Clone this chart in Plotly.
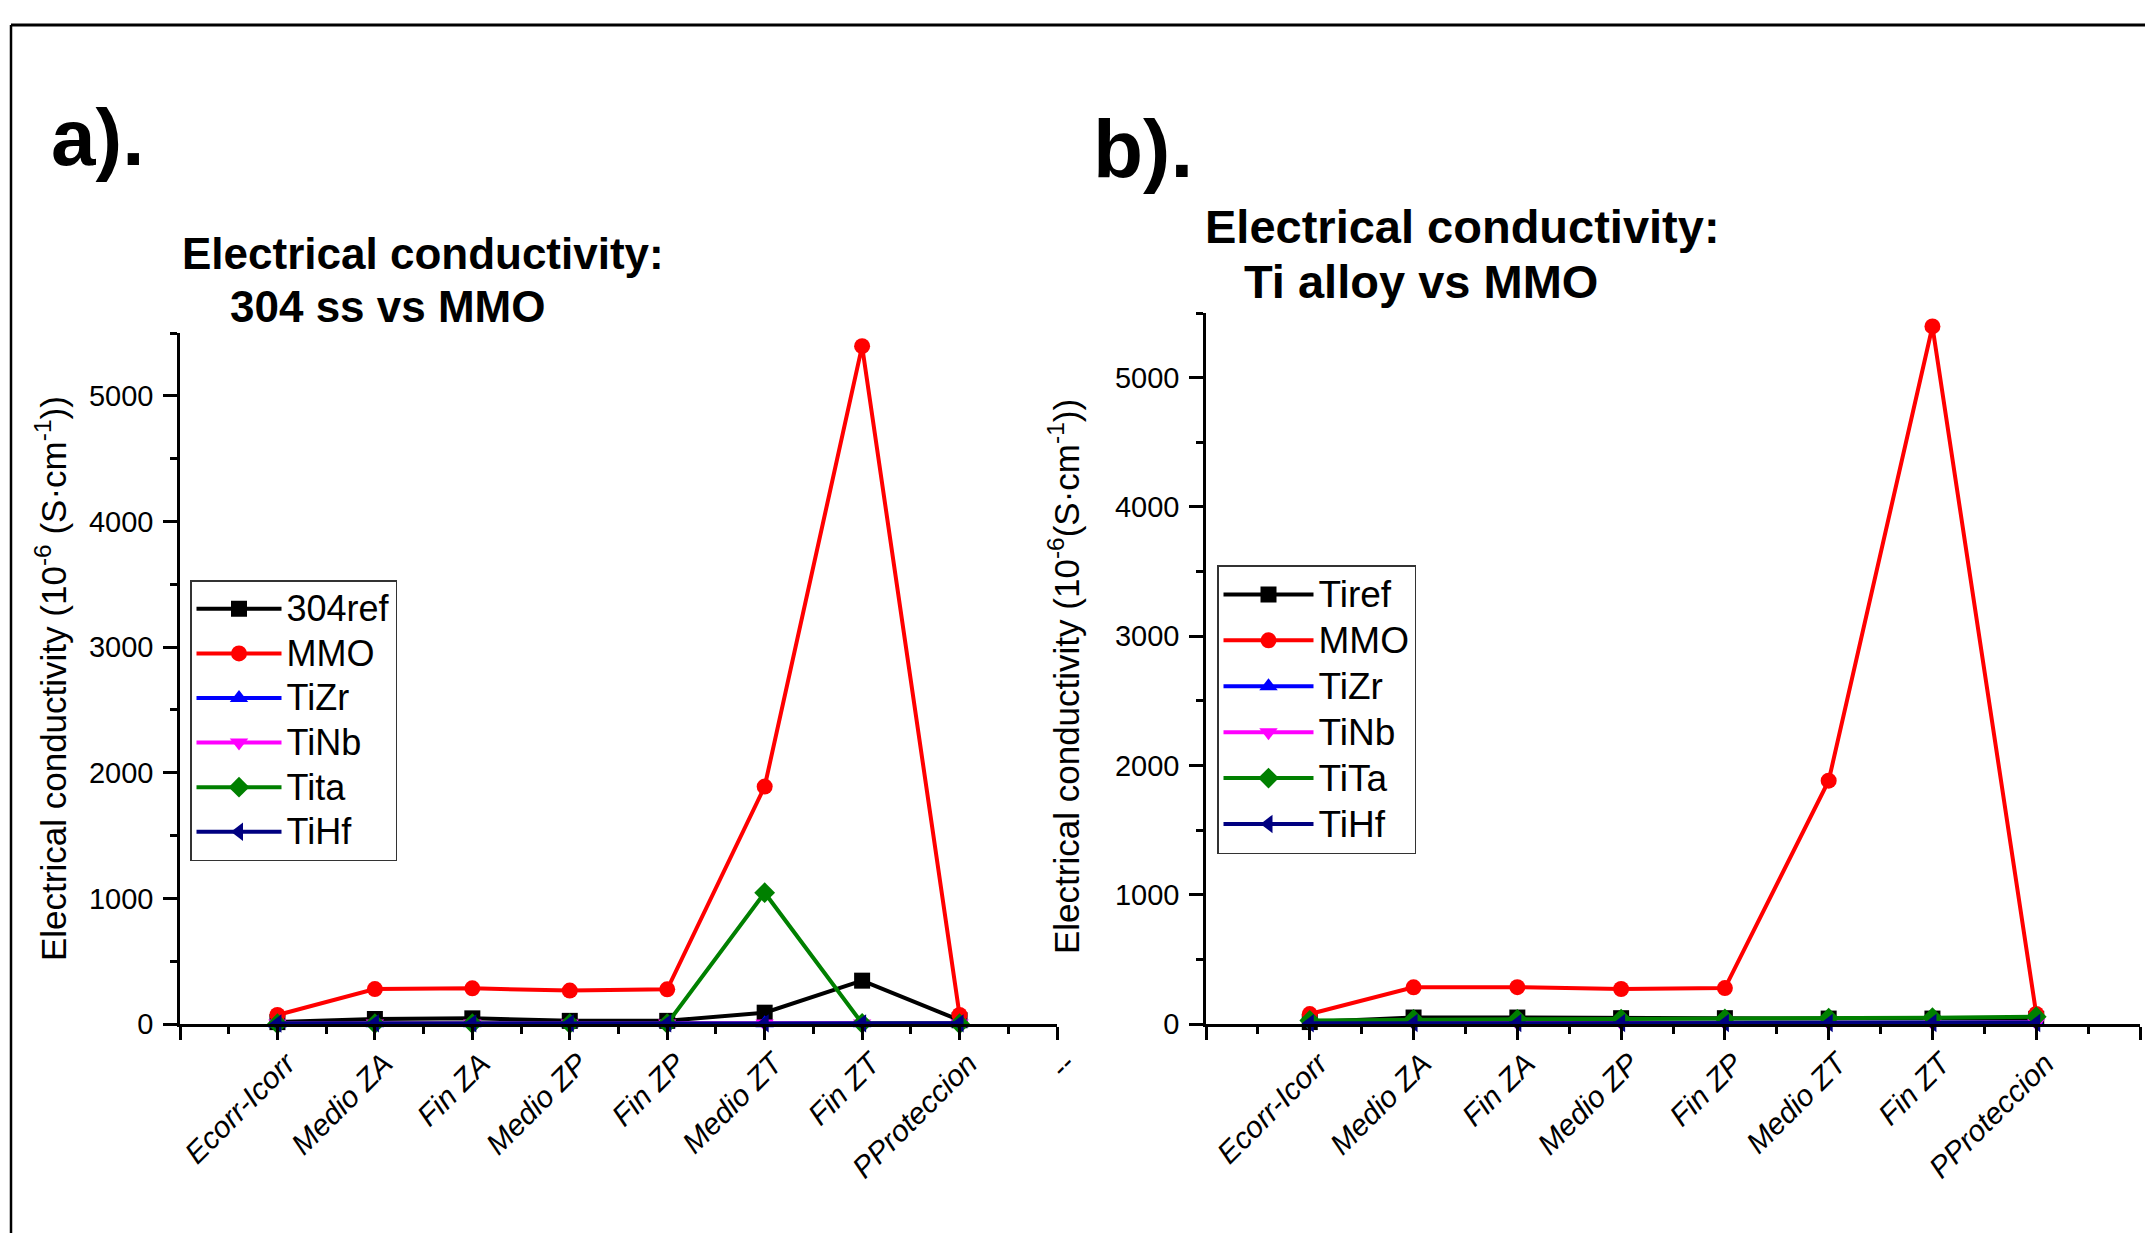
import plotly.graph_objects as go

# ---------------- data ----------------
categories = ["Ecorr-Icorr", "Medio ZA", "Fin ZA", "Medio ZP", "Fin ZP",
              "Medio ZT", "Fin ZT", "PProteccion"]
tick_text = [""] + categories + ["--"]

# panel a) 304 ss vs MMO
names_a = ["304ref", "MMO", "TiZr", "TiNb", "Tita", "TiHf"]
ref304 = [15, 40, 45, 25, 25, 90, 345, 30]
mmo_a = [72, 278, 284, 266, 276, 1890, 5395, 72]
tizr_a = [4, 5, 5, 5, 5, 5, 5, 5]
tinb_a = [3, 4, 4, 4, 4, 4, 4, 4]
tita_a = [2, 3, 3, 3, 3, 1045, 5, 2]
tihf_a = [4, 5, 5, 5, 5, 5, 5, 5]

# panel b) Ti alloy vs MMO
names_b = ["Tiref", "MMO", "TiZr", "TiNb", "TiTa", "TiHf"]
tiref = [15, 50, 50, 45, 45, 42, 42, 40]
mmo_b = [77, 284, 285, 271, 278, 1882, 5396, 78]
tizr_b = [8, 10, 10, 10, 10, 10, 10, 12]
tinb_b = [6, 8, 8, 8, 8, 8, 8, 10]
tita_b = [28, 35, 36, 38, 40, 45, 49, 57]
tihf_b = [5, 7, 7, 7, 7, 7, 7, 8]

# ---------------- styles ----------------
colors = ["#000000", "#FF0000", "#0000FF", "#FF00FF", "#008000", "#000080"]
symbols = ["square", "circle", "triangle-up", "triangle-down", "diamond", "triangle-left"]
FONT = "Arial, Liberation Sans, sans-serif"
W, H = 2145, 1233

x_pos = list(range(1, len(categories) + 1))

fig = go.Figure()

series_a = [ref304, mmo_a, tizr_a, tinb_a, tita_a, tihf_a]
series_b = [tiref, mmo_b, tizr_b, tinb_b, tita_b, tihf_b]


def legend_label(name, size):
    return '<span style="font-size:%dpx">%s</span>' % (size, name)


for name, vals, c, s in zip(names_a, series_a, colors, symbols):
    fig.add_trace(go.Scatter(
        x=x_pos, y=vals, name=legend_label(name, 36), mode="lines+markers",
        line=dict(color=c, width=4), marker=dict(color=c, symbol=s, size=16),
        cliponaxis=False, xaxis="x", yaxis="y", legend="legend"))

for name, vals, c, s in zip(names_b, series_b, colors, symbols):
    fig.add_trace(go.Scatter(
        x=x_pos, y=vals, name=legend_label(name, 37), mode="lines+markers",
        line=dict(color=c, width=4), marker=dict(color=c, symbol=s, size=16),
        cliponaxis=False, xaxis="x2", yaxis="y2", legend="legend2"))


def xaxis_cfg(domain, anchor):
    return dict(
        domain=domain, anchor=anchor, range=[0, 9], automargin=False,
        tickmode="array", tickvals=list(range(len(tick_text))), ticktext=tick_text,
        tickangle=-45, ticks="outside", ticklen=13, tickwidth=2.5, tickcolor="black",
        tickfont=dict(family=FONT, size=30, color="black", style="italic"),
        ticklabelshift=9, ticklabelstandoff=-6,
        minor=dict(tick0=0, dtick=0.5, ticks="outside", ticklen=7, tickwidth=2.5,
                   tickcolor="black"),
        showline=True, linewidth=3, linecolor="black",
        showgrid=False, zeroline=False, fixedrange=True)


def yaxis_cfg(domain, anchor):
    return dict(
        domain=domain, anchor=anchor, range=[0, 5500], automargin=False,
        tickmode="linear", tick0=0, dtick=1000,
        ticks="outside", ticklen=14, tickwidth=2.5, tickcolor="black",
        tickfont=dict(family=FONT, size=29, color="black"), ticklabelstandoff=4,
        minor=dict(tick0=0, dtick=500, ticks="outside", ticklen=7, tickwidth=2.5,
                   tickcolor="black"),
        showline=True, linewidth=2.5, linecolor="black",
        showgrid=False, zeroline=False, fixedrange=True)


def px_x(v):
    return min(1.0, v / W)


def px_y(v):
    return max(0.0, 1 - v / H)


fig.update_layout(
    width=W, height=H, margin=dict(l=0, r=0, t=0, b=0, autoexpand=False),
    paper_bgcolor="white", plot_bgcolor="white",
    font=dict(family=FONT, color="black"),
    xaxis=xaxis_cfg([px_x(180), px_x(1057)], "y"),
    yaxis=yaxis_cfg([px_y(1024), px_y(333)], "x"),
    xaxis2=xaxis_cfg([px_x(1206), px_x(2140)], "y2"),
    yaxis2=yaxis_cfg([px_y(1024), px_y(313)], "x2"),
    legend=dict(x=px_x(190), y=px_y(580), xanchor="left", yanchor="top",
                bgcolor="white", bordercolor="#333", borderwidth=1.5,
                font=dict(family=FONT, size=32, color="black"),
                itemwidth=85, tracegroupgap=0),
    legend2=dict(x=px_x(1217), y=px_y(565), xanchor="left", yanchor="top",
                 bgcolor="white", bordercolor="#333", borderwidth=1.5,
                 font=dict(family=FONT, size=33, color="black"),
                 itemwidth=90, tracegroupgap=0),
)

annotations = [
    dict(text="<b>a).</b>", x=px_x(49), y=px_y(137), xanchor="left", yanchor="middle",
         font=dict(size=80)),
    dict(text="<b>b).</b>", x=px_x(1091), y=px_y(148), xanchor="left", yanchor="middle",
         font=dict(size=82)),
    dict(text="<b>Electrical conductivity:</b>", x=px_x(180), y=px_y(253),
         xanchor="left", yanchor="middle", font=dict(size=44)),
    dict(text="<b>304 ss vs MMO</b>", x=px_x(228), y=px_y(307),
         xanchor="left", yanchor="middle", font=dict(size=44)),
    dict(text="<b>Electrical conductivity:</b>", x=px_x(1203), y=px_y(227),
         xanchor="left", yanchor="middle", font=dict(size=47)),
    dict(text="<b>Ti alloy vs MMO</b>", x=px_x(1242), y=px_y(282),
         xanchor="left", yanchor="middle", font=dict(size=47)),
    dict(text="Electrical conductivity (10<sup>-6</sup> (S·cm<sup>-1</sup>))",
         x=px_x(51), y=px_y(679), xanchor="center", yanchor="middle",
         textangle=-90, font=dict(size=35)),
    dict(text="Electrical conductivity (10<sup>-6</sup>(S·cm<sup>-1</sup>))",
         x=px_x(1064), y=px_y(677), xanchor="center", yanchor="middle",
         textangle=-90, font=dict(size=35)),
]
for a in annotations:
    a.update(xref="paper", yref="paper", showarrow=False)
    a["font"].update(family=FONT, color="black")
fig.update_layout(annotations=annotations)

# outer frame (top and left edges visible in the reference)
fig.add_shape(type="line", xref="paper", yref="paper",
              x0=px_x(11), x1=1, y0=px_y(25), y1=px_y(25),
              line=dict(color="black", width=3))
fig.add_shape(type="line", xref="paper", yref="paper",
              x0=px_x(11), x1=px_x(11), y0=0, y1=px_y(25),
              line=dict(color="black", width=2.5))

fig.write_html("out.html")
